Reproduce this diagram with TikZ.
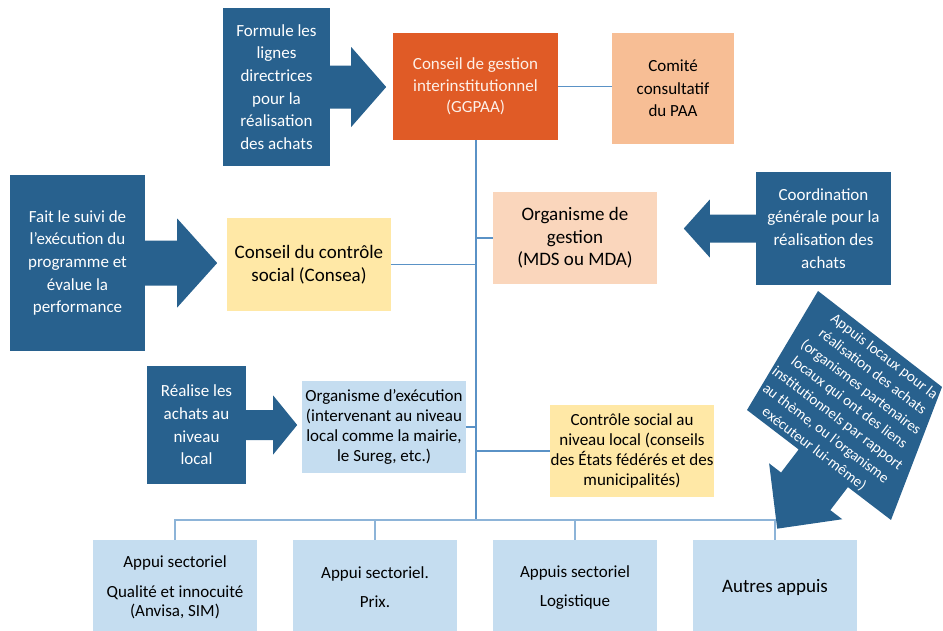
\documentclass[tikz,border=0pt]{standalone}
\usepackage{fontspec}
\setmainfont{Carlito}
\usetikzlibrary{calc}
\definecolor{dk}{HTML}{28618E}
\definecolor{org}{HTML}{E05B26}
\definecolor{peach}{HTML}{F7BE95}
\definecolor{peachl}{HTML}{FAD6BC}
\definecolor{yel}{HTML}{FFE8A6}
\definecolor{lb}{HTML}{C5DDF0}
\definecolor{lnk}{HTML}{5A92C6}
\definecolor{bus}{HTML}{8DB4D8}
\definecolor{cream}{HTML}{FDF0E8}
\newcommand\myfs[2]{\fontsize{#1pt}{#2pt}\selectfont}
\tikzset{
  base/.style={rectangle, inner sep=0pt, align=center},
  darkbox/.style={base, fill=dk, text=white, font=\myfs{17}{22.7}},
  lightbox/.style={base, fill=lb, text=black},
  conn/.style={draw=lnk, line width=1.3pt},
  busline/.style={draw=bus, line width=1.8pt},
}
\begin{document}
\begin{tikzpicture}[x=1pt,y=-1pt]
\useasboundingbox (0,0) rectangle (943,630);
\clip (0,0) rectangle (943,630);

% ---- dark callout boxes
\node[darkbox, minimum width=107pt, minimum height=158pt] (formule) at (276.5,87)
  {Formule les\\lignes\\directrices\\pour la\\réalisation\\des achats};
\fill[dk] (formule.east) ++(-1,-21.5) -- ++(22,0) -- ++(0,-18.5) -- ++(35,40) -- ++(-35,40) -- ++(0,-18.5) -- ++(-22,0) -- cycle;

\node[darkbox, minimum width=135pt, minimum height=176pt] (fait) at (77.5,263)
  {Fait le suivi de\\l’exécution du\\programme et\\évalue la\\performance};
\fill[dk] (fait.east) ++(-1,-22.5) -- ++(33,0) -- ++(0,-22) -- ++(40,44.5) -- ++(-40,44.5) -- ++(0,-22) -- ++(-33,0) -- cycle;

\node[darkbox, minimum width=135pt, minimum height=113pt] (coord) at (823.5,228.5)
  {Coordination\\générale pour la\\réalisation des\\achats};
\fill[dk] (coord.west) ++(1,-14) -- ++(-47,0) -- ++(0,-15) -- ++(-26,29) -- ++(26,29) -- ++(0,-15) -- ++(47,0) -- cycle;

\node[darkbox, minimum width=99pt, minimum height=118pt] (realise) at (196.5,425)
  {Réalise les\\achats au\\niveau\\local};
\fill[dk] (realise.east) ++(-1,-15) -- ++(28,0) -- ++(0,-14.5) -- ++(24,29.5) -- ++(-24,29.5) -- ++(0,-14.5) -- ++(-28,0) -- cycle;

% ---- main boxes
\node[base, fill=org, text=cream, font=\myfs{17}{21.7}, minimum width=165pt, minimum height=107pt] (ggpaa) at (475.5,86.5)
  {Conseil de gestion\\interinstitutionnel\\(GGPAA)};
\node[base, fill=peach, font=\myfs{17}{22.5}, minimum width=122pt, minimum height=111pt] (comite) at (673,88.5)
  {Comité\\consultatif\\du PAA};
\node[base, fill=yel, font=\myfs{19}{22.5}, minimum width=164pt, minimum height=93pt] (consea) at (309,264.5)
  {Conseil du contrôle\\social (Consea)};
\node[base, fill=peachl, font=\myfs{19}{22.5}, minimum width=164pt, minimum height=92pt] (orggest) at (575,238)
  {Organisme de\\gestion\\(MDS ou MDA)};
\node[lightbox, font=\myfs{17}{20.3}, minimum width=164pt, minimum height=92pt] (orgexec) at (384,427)
  {Organisme d’exécution\\(intervenant au niveau\\local comme la mairie,\\le Sureg, etc.)};
\node[base, fill=yel, font=\myfs{17}{20.3}, minimum width=164pt, minimum height=92pt] (controle) at (632,451)
  {Contrôle social au\\niveau local (conseils\\des États fédérés et des\\municipalités)};

% ---- bottom boxes
\node[lightbox, font=\myfs{17}{19.5}, minimum width=164pt, minimum height=95pt] (b1) at (175,587.5)
  {Appui sectoriel\\[10pt]Qualité et innocuité\\(Anvisa, SIM)};
\node[lightbox, font=\myfs{17}{20}, minimum width=164pt, minimum height=95pt] (b2) at (375,587.5)
  {Appui sectoriel.\\[9pt]Prix.};
\node[lightbox, font=\myfs{17}{20}, minimum width=164pt, minimum height=95pt] (b3) at (575,587.5)
  {Appuis sectoriel\\[9pt]Logistique};
\node[lightbox, font=\myfs{19}{22}, minimum width=164pt, minimum height=95pt] (b4) at (775,587.5)
  {Autres appuis};

% ---- connectors
\coordinate (hub) at (476,520);
\draw[draw=lnk, line width=2pt] (ggpaa.south -| hub) -- (hub);
\draw[conn] (ggpaa.east) -- (ggpaa.east -| comite.west);
\draw[conn] (consea.east) -- (consea.east -| hub);
\draw[conn] (orggest.west) -- (orggest.west -| hub);
\draw[conn] (orgexec.east) -- (orgexec.east -| hub);
\draw[conn] (controle.west) -- (controle.west -| hub);
\draw[busline] (b1.north) |- (hub);
\draw[busline] (b2.north) |- (hub);
\draw[busline] (b3.north) |- (hub);
\draw[busline] (b4.north) |- (hub);

% ---- rotated callout
\begin{scope}[shift={(747,410)}, rotate=-37.37]
\fill[dk] (0,0) -- (-15.8,-137.7) -- (141,-136.7) -- (181.2,0) -- (127,0) -- (127,29) -- (142,29) -- (96,76) -- (50,29) -- (65,29) -- (65,0) -- cycle;
\end{scope}
\node[base, text=white, rotate=-37.37, font=\myfs{15}{19.3}] (appuis) at (849,403)
  {Appuis locaux pour la\\réalisation des achats\\(organismes partenaires\\locaux qui ont des liens\\institutionnels par rapport\\au thème, ou l’organisme\\exécuteur lui-même)};
\end{tikzpicture}
\end{document}
